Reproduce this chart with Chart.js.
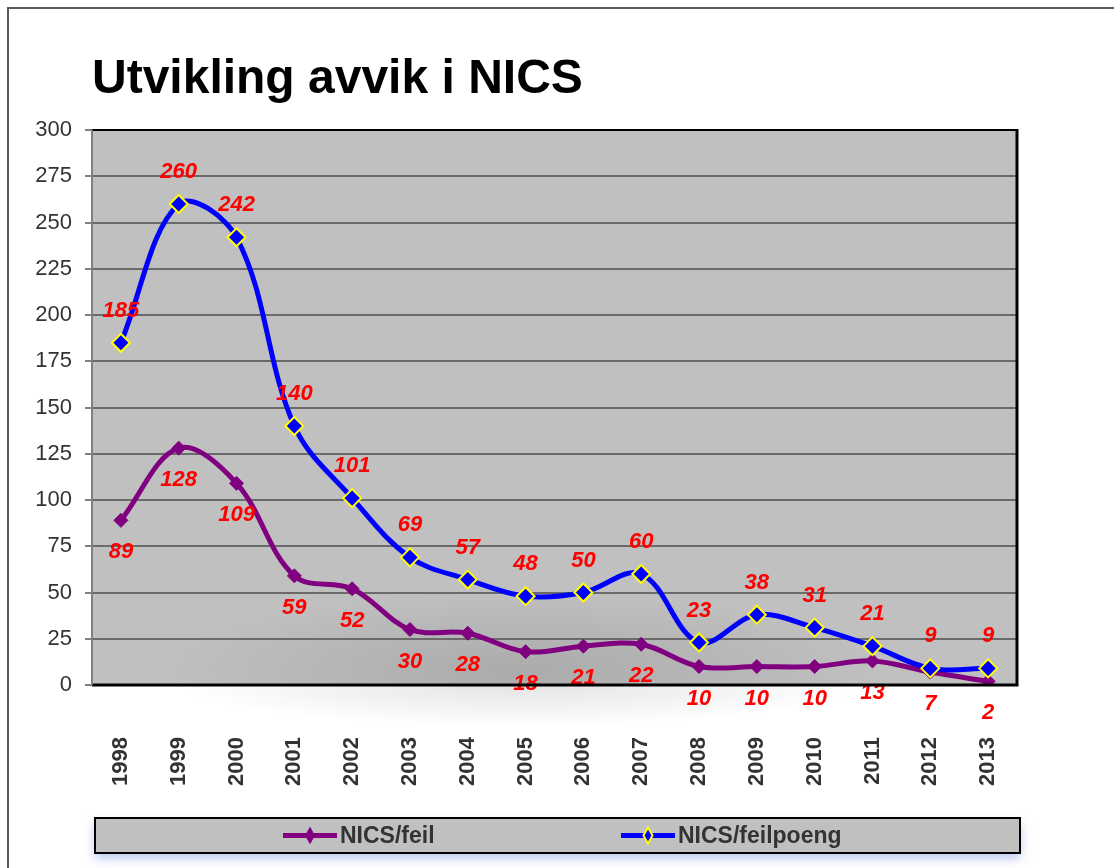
<!DOCTYPE html>
<html>
<head>
<meta charset="utf-8">
<script src="https://cdn.jsdelivr.net/npm/chart.js@4/dist/chart.umd.min.js"></script>
<style>
  html, body { margin: 0; padding: 0; background: #ffffff; }
  #wrap { width: 1114px; height: 868px; }
</style>
</head>
<body>
<div id="wrap"><canvas id="c" width="1114" height="868"></canvas></div>
<script>
const titleText = 'Utvikling avvik i NICS';
const years = ['1998','1999','2000','2001','2002','2003','2004','2005','2006','2007','2008','2009','2010','2011','2012','2013'];
const feilLabel = 'NICS/feil';
const feil = [89, 128, 109, 59, 52, 30, 28, 18, 21, 22, 10, 10, 10, 13, 7, 2];
const feilpoengLabel = 'NICS/feilpoeng';
const feilpoeng = [185, 260, 242, 140, 101, 69, 57, 48, 50, 60, 23, 38, 31, 21, 9, 9];
const yMin = 0, yMax = 300, yStep = 25;

const FONT = '"Liberation Sans", Arial, Helvetica, sans-serif';

const decor = {
  id: 'decor',
  beforeDraw(chart) {
    const ctx = chart.ctx;
    const a = chart.chartArea;
    ctx.save();
    ctx.fillStyle = '#ffffff';
    ctx.fillRect(0, 0, chart.width, chart.height);
    // outer frame (left & top)
    ctx.strokeStyle = '#5a5a5a';
    ctx.lineWidth = 2;
    ctx.beginPath();
    ctx.moveTo(chart.width, 8);
    ctx.lineTo(8, 8);
    ctx.lineTo(8, chart.height);
    ctx.stroke();
    // faint soft shadow below plot
    ctx.save();
    ctx.beginPath();
    ctx.rect(a.left, a.bottom, a.right - a.left, 60);
    ctx.clip();
    ctx.translate(520, a.bottom);
    ctx.scale(1, 0.12);
    const sg = ctx.createRadialGradient(0, 0, 0, 0, 0, 340);
    sg.addColorStop(0, 'rgba(160,160,160,0.28)');
    sg.addColorStop(0.6, 'rgba(160,160,160,0.12)');
    sg.addColorStop(1, 'rgba(160,160,160,0)');
    ctx.fillStyle = sg;
    ctx.fillRect(-600, -600, 1200, 1200);
    ctx.restore();
    // plot background
    ctx.fillStyle = '#c0c0c0';
    ctx.fillRect(a.left, a.top, a.right - a.left, a.bottom - a.top);
    ctx.save();
    ctx.beginPath();
    ctx.rect(a.left, a.top, a.right - a.left, a.bottom - a.top);
    ctx.clip();
    ctx.translate(520, a.bottom - 15);
    ctx.scale(1, 0.22);
    const rg = ctx.createRadialGradient(0, 0, 0, 0, 0, 360);
    rg.addColorStop(0, 'rgba(150,150,150,0.5)');
    rg.addColorStop(1, 'rgba(150,150,150,0)');
    ctx.fillStyle = rg;
    ctx.fillRect(-600, -600, 1200, 1200);
    ctx.restore();
    // title
    ctx.fillStyle = '#000000';
    ctx.font = 'bold 48px ' + FONT;
    ctx.textAlign = 'left';
    ctx.textBaseline = 'alphabetic';
    ctx.fillText(titleText, 92, 93);
    ctx.restore();
  },
  afterDraw(chart) {
    const ctx = chart.ctx;
    const a = chart.chartArea;
    ctx.save();
    // plot borders
    ctx.strokeStyle = '#000000';
    ctx.lineWidth = 2;
    ctx.beginPath();
    ctx.moveTo(a.left, a.top);
    ctx.lineTo(a.right, a.top);
    ctx.stroke();
    ctx.lineWidth = 3;
    ctx.beginPath();
    ctx.moveTo(a.right, a.top - 1);
    ctx.lineTo(a.right, a.bottom);
    ctx.lineTo(a.left, a.bottom);
    ctx.stroke();
    ctx.strokeStyle = '#808080';
    ctx.lineWidth = 2;
    ctx.beginPath();
    ctx.moveTo(a.left, a.top);
    ctx.lineTo(a.left, a.bottom);
    ctx.stroke();

    // legend
    const lx = 95, ly = 818, lw = 925, lh = 35;
    ctx.save();
    ctx.shadowColor = 'rgba(110,140,220,0.5)';
    ctx.shadowBlur = 10;
    ctx.shadowOffsetY = 5;
    ctx.fillStyle = '#c0c0c0';
    ctx.fillRect(lx, ly, lw, lh);
    ctx.restore();
    ctx.strokeStyle = '#000000';
    ctx.lineWidth = 2;
    ctx.strokeRect(lx, ly, lw, lh);
    const cy = ly + lh / 2;
    const items = [
      { ds: chart.data.datasets[1], x0: 283, r: 7 },
      { ds: chart.data.datasets[0], x0: 621, r: 7 }
    ];
    ctx.font = 'bold 23px ' + FONT;
    ctx.textBaseline = 'middle';
    ctx.textAlign = 'left';
    items.forEach(it => {
      const ds = it.ds;
      ctx.strokeStyle = ds.borderColor;
      ctx.lineWidth = 5;
      ctx.beginPath();
      ctx.moveTo(it.x0, cy);
      ctx.lineTo(it.x0 + 54, cy);
      ctx.stroke();
      const mx = it.x0 + 27;
      const r = it.r;
      ctx.beginPath();
      ctx.moveTo(mx, cy - r - 1);
      ctx.lineTo(mx + r * 0.65, cy);
      ctx.lineTo(mx, cy + r + 1);
      ctx.lineTo(mx - r * 0.65, cy);
      ctx.closePath();
      ctx.fillStyle = ds.pointBackgroundColor;
      ctx.fill();
      ctx.lineWidth = ds.pointBorderWidth;
      ctx.strokeStyle = ds.pointBorderColor;
      ctx.stroke();
      ctx.fillStyle = '#333333';
      ctx.fillText(ds.label, it.x0 + 57, cy + 1);
    });
    ctx.restore();
  },
  afterDatasetsDraw(chart) {
    const ctx = chart.ctx;
    ctx.save();
    ctx.font = 'italic bold 22px ' + FONT;
    ctx.fillStyle = '#ff0000';
    ctx.textAlign = 'center';
    ctx.textBaseline = 'middle';
    chart.data.datasets.forEach((ds, i) => {
      const meta = chart.getDatasetMeta(i);
      const dy = ds.labelAbove ? -32 : 32;
      meta.data.forEach((pt, j) => {
        ctx.fillText(String(ds.data[j]), pt.x, pt.y + dy);
      });
    });
    ctx.restore();
  }
};

new Chart(document.getElementById('c'), {
  type: 'line',
  data: {
    labels: years,
    datasets: [
      {
        label: feilpoengLabel,
        data: feilpoeng,
        labelAbove: true,
        order: 0,
        borderColor: '#0000ff',
        backgroundColor: '#0000ff',
        borderWidth: 5,
        tension: 0.36,
        pointStyle: 'rectRot',
        pointRadius: 9,
        pointBackgroundColor: '#0000ff',
        pointBorderColor: '#ffff00',
        pointBorderWidth: 2,
        fill: false
      },
      {
        label: feilLabel,
        data: feil,
        labelAbove: false,
        order: 1,
        borderColor: '#800080',
        backgroundColor: '#800080',
        borderWidth: 5,
        tension: 0.36,
        pointStyle: 'rectRot',
        pointRadius: 7,
        pointBackgroundColor: '#800080',
        pointBorderColor: '#800080',
        pointBorderWidth: 1,
        fill: false
      }
    ]
  },
  options: {
    responsive: false,
    animation: false,
    devicePixelRatio: 1,
    layout: { padding: { left: 0, top: 130, right: 97, bottom: 0 } },
    plugins: {
      legend: { display: false },
      title: { display: false },
      tooltip: { enabled: false }
    },
    scales: {
      x: {
        type: 'category',
        offset: true,
        grid: { display: false, drawTicks: false },
        border: { display: false },
        ticks: {
          minRotation: 90,
          maxRotation: 90,
          autoSkip: false,
          padding: 52,
          color: '#333333',
          font: { family: FONT, size: 22, weight: 'bold' }
        },
        afterFit(scale) { scale.height = 868 - 685; }
      },
      y: {
        min: yMin,
        max: yMax,
        ticks: {
          stepSize: yStep,
          padding: 13,
          color: '#333333',
          font: { family: FONT, size: 22 }
        },
        grid: {
          color: '#6a6a6a',
          lineWidth: 2,
          tickLength: 7,
          tickColor: '#808080',
          tickWidth: 2
        },
        border: { display: false },
        afterFit(scale) { scale.width = 92; }
      }
    }
  },
  plugins: [decor]
});
</script>
</body>
</html>
